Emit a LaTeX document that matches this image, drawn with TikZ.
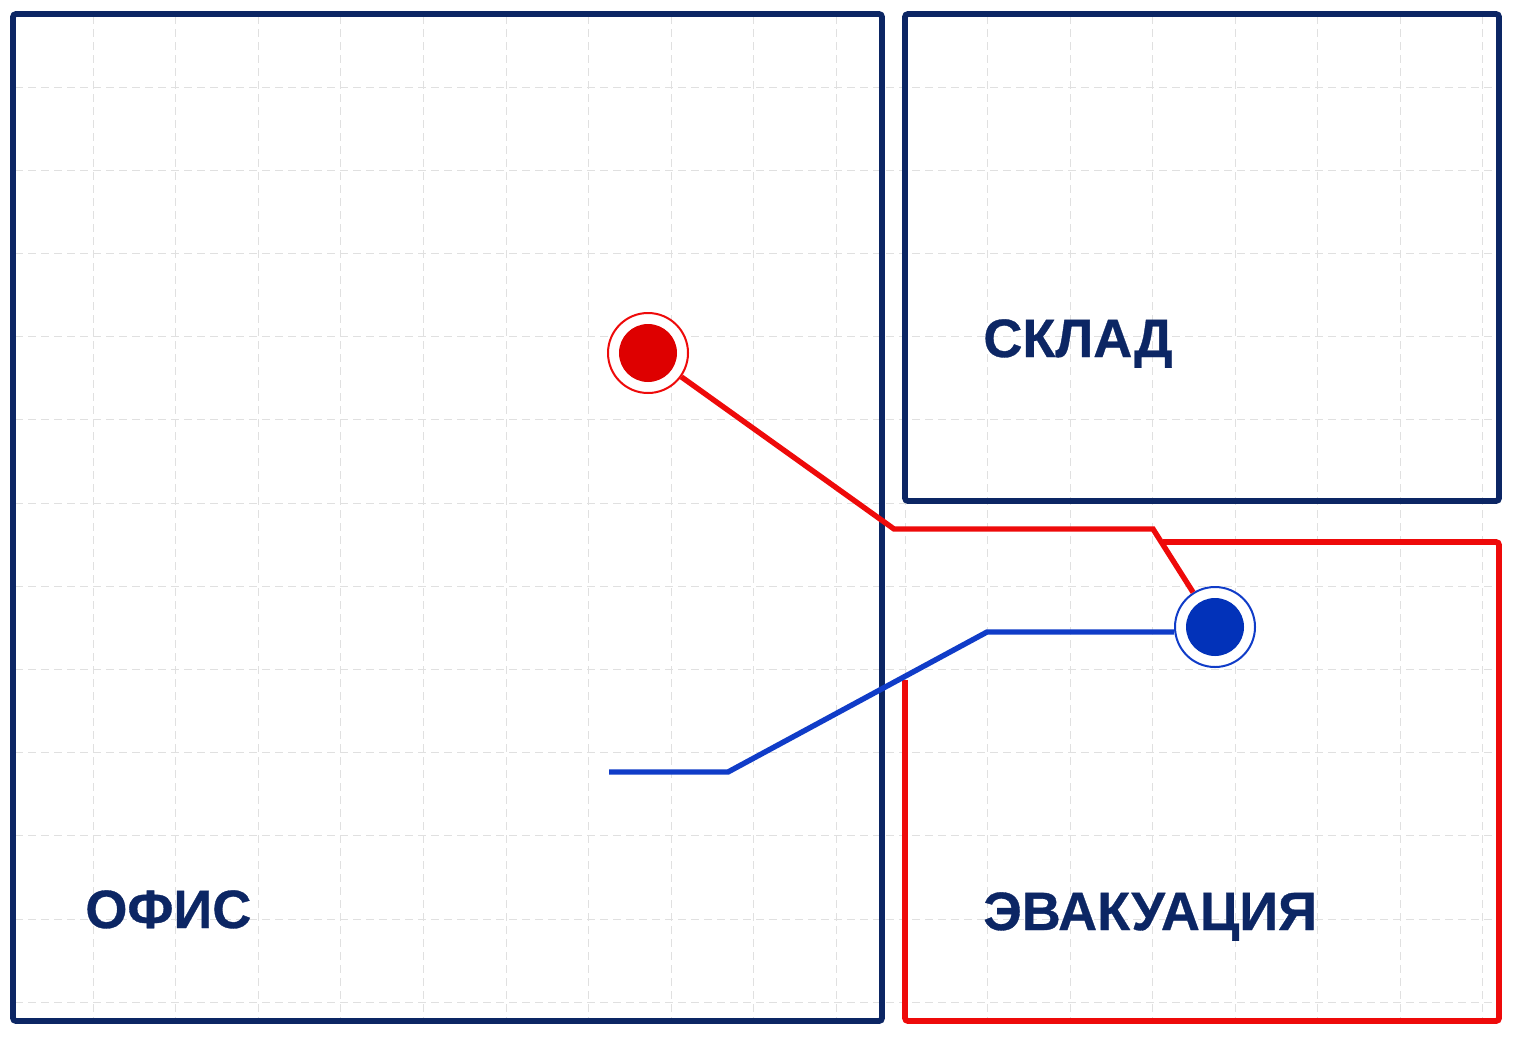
\documentclass[tikz,border=0pt]{standalone}
\usepackage{fontspec}
\setmainfont{Liberation Sans}[BoldFeatures={FakeBold=0.6}]
\usepackage{xcolor}
\definecolor{navy}{RGB}{12,38,100}
\definecolor{alarm}{RGB}{238,10,10}
\definecolor{alarmdot}{RGB}{222,0,0}
\definecolor{exitblue}{RGB}{16,60,200}
\definecolor{exitdot}{RGB}{2,50,185}
\definecolor{gridgray}{RGB}{224,224,224}

\begin{document}
\begin{tikzpicture}[x=0.5pt, y=-0.5pt,
		wall/.style={draw=navy, line width=2.9pt, rounded corners=1.5pt},
		gridline/.style={draw=gridgray, line width=0.5pt, dash pattern=on 4pt off 2.5pt},
		route/.style={draw=#1, line width=2.7pt},
		pinring/.style={circle, draw=#1, line width=1pt, fill=white, minimum size=40pt, inner sep=0pt},
		pindot/.style={circle, fill=#1, minimum size=29pt, inner sep=0pt},
		roomname/.style={anchor=base west, text=navy, font=\fontsize{27}{29}\selectfont\bfseries, inner sep=0pt}]
	\fill[white] (0,0) rectangle (1513,1039);
	\useasboundingbox (0,0) rectangle (1513,1039);

	\foreach \k in {1,...,10} \draw[gridline] ({10.5+82.6*\k},16) -- ({10.5+82.6*\k},1019);
	\foreach \k in {0,...,7} \draw[gridline] ({905+82.5*\k},16) -- ({905+82.5*\k},1019);
	\foreach \k in {1,...,12} \draw[gridline] (15,{3.8+83.2*\k}) -- (1497,{3.8+83.2*\k});

	\draw[wall] (13,14) rectangle (882,1021);
	\draw[wall] (905,14) rectangle (1499,501);
	\draw[wall, draw=alarm] (1163,542) -- (1499,542) -- (1499,1021) -- (905,1021) -- (905,680);

	\node[roomname] (office) at (85,928) {ОФИС};
	\node[roomname] (store) at (983,357) {СКЛАД};
	\node[roomname] (evac) at (983,930) {ЭВАКУАЦИЯ};

	\node[pinring=alarm] (start) at (648,353) {};
	\node[pindot=alarmdot] (startdot) at (start) {};
	\node[pinring=exitblue] (exit) at (1215,627) {};
	\node[pindot=exitdot] (exitdot) at (exit) {};

	\coordinate (r1) at (894,529);
	\coordinate (r2) at (1153,529);
	\coordinate (b0) at (609,772);
	\coordinate (b1) at (728,772);
	\coordinate (b2) at (987,632);

	\draw[route=alarm] (start) -- (r1) -- (r2) -- (exit);
	\draw[route=exitblue] (b0) -- (b1) -- (b2) -- (b2 -| exit.west);
\end{tikzpicture}
\end{document}
